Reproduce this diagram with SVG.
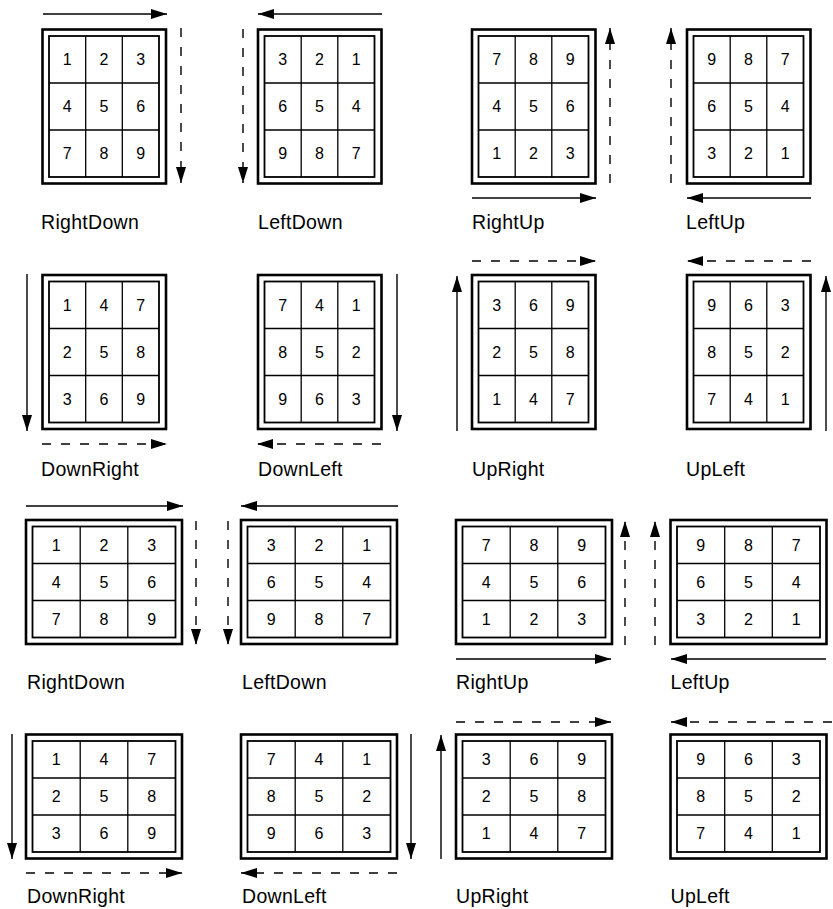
<svg xmlns="http://www.w3.org/2000/svg" width="833" height="909" viewBox="0 0 833 909">
<style>
.outer{fill:#fff;stroke:#000;stroke-width:2.6}
.inner{fill:none;stroke:#000;stroke-width:1.8}
.grid{stroke:#000;stroke-width:1.3;fill:none}
.num{font-family:"Liberation Sans",Arial,sans-serif;font-size:16px;text-anchor:middle;fill:#000}
.lbl{font-family:"Liberation Sans",Arial,sans-serif;font-size:19.5px;fill:#000;letter-spacing:0.3px}
.sol{stroke:#000;stroke-width:1.4;fill:none;marker-end:url(#ah)}
.dsh{stroke:#000;stroke-width:1.4;fill:none;stroke-dasharray:9 10;marker-end:url(#ah)}
</style>
<defs>
<marker id="ah" markerUnits="userSpaceOnUse" markerWidth="16" markerHeight="10" refX="16" refY="5" orient="auto">
<path d="M0,0 L16,5 L0,10 z" fill="#000"/>
</marker>
<g id="pgrid">
<rect class="outer" x="0" y="0" width="123.5" height="154"/>
<rect class="inner" x="6.5" y="6.5" width="110" height="141"/>
<path class="grid" d="M43.2,6.5V147.5M79.8,6.5V147.5M6.5,53.5H116.5M6.5,100.5H116.5"/>
</g>
<g id="lgrid">
<rect class="outer" x="0" y="0" width="156" height="124"/>
<rect class="inner" x="6.5" y="6.5" width="143" height="111"/>
<path class="grid" d="M54.2,6.5V117.5M101.8,6.5V117.5M6.5,43.5H149.5M6.5,80.5H149.5"/>
</g>
</defs>
<rect width="833" height="909" fill="#fff"/>

<!-- Row 1 -->
<g id="p1" transform="translate(42.5,29.5)">
<use href="#pgrid"/>
<text class="num" x="24.8" y="35.7">1</text><text class="num" x="61.5" y="35.7">2</text><text class="num" x="98.2" y="35.7">3</text>
<text class="num" x="24.8" y="82.7">4</text><text class="num" x="61.5" y="82.7">5</text><text class="num" x="98.2" y="82.7">6</text>
<text class="num" x="24.8" y="129.7">7</text><text class="num" x="61.5" y="129.7">8</text><text class="num" x="98.2" y="129.7">9</text>
<text class="lbl" x="-1.5" y="199.5">RightDown</text>
</g>
<g id="p2" transform="translate(258,29.5)">
<use href="#pgrid"/>
<text class="num" x="24.8" y="35.7">3</text><text class="num" x="61.5" y="35.7">2</text><text class="num" x="98.2" y="35.7">1</text>
<text class="num" x="24.8" y="82.7">6</text><text class="num" x="61.5" y="82.7">5</text><text class="num" x="98.2" y="82.7">4</text>
<text class="num" x="24.8" y="129.7">9</text><text class="num" x="61.5" y="129.7">8</text><text class="num" x="98.2" y="129.7">7</text>
<text class="lbl" x="0" y="199.5">LeftDown</text>
</g>
<g id="p3" transform="translate(472,29.5)">
<use href="#pgrid"/>
<text class="num" x="24.8" y="35.7">7</text><text class="num" x="61.5" y="35.7">8</text><text class="num" x="98.2" y="35.7">9</text>
<text class="num" x="24.8" y="82.7">4</text><text class="num" x="61.5" y="82.7">5</text><text class="num" x="98.2" y="82.7">6</text>
<text class="num" x="24.8" y="129.7">1</text><text class="num" x="61.5" y="129.7">2</text><text class="num" x="98.2" y="129.7">3</text>
<text class="lbl" x="0" y="199.5">RightUp</text>
</g>
<g id="p4" transform="translate(687,29.5)">
<use href="#pgrid"/>
<text class="num" x="24.8" y="35.7">9</text><text class="num" x="61.5" y="35.7">8</text><text class="num" x="98.2" y="35.7">7</text>
<text class="num" x="24.8" y="82.7">6</text><text class="num" x="61.5" y="82.7">5</text><text class="num" x="98.2" y="82.7">4</text>
<text class="num" x="24.8" y="129.7">3</text><text class="num" x="61.5" y="129.7">2</text><text class="num" x="98.2" y="129.7">1</text>
<text class="lbl" x="-1" y="199.5">LeftUp</text>
</g>

<!-- Row 2 -->
<g id="p5" transform="translate(42.5,275)">
<use href="#pgrid"/>
<text class="num" x="24.8" y="35.7">1</text><text class="num" x="61.5" y="35.7">4</text><text class="num" x="98.2" y="35.7">7</text>
<text class="num" x="24.8" y="82.7">2</text><text class="num" x="61.5" y="82.7">5</text><text class="num" x="98.2" y="82.7">8</text>
<text class="num" x="24.8" y="129.7">3</text><text class="num" x="61.5" y="129.7">6</text><text class="num" x="98.2" y="129.7">9</text>
<text class="lbl" x="-1.5" y="201">DownRight</text>
</g>
<g id="p6" transform="translate(258,275)">
<use href="#pgrid"/>
<text class="num" x="24.8" y="35.7">7</text><text class="num" x="61.5" y="35.7">4</text><text class="num" x="98.2" y="35.7">1</text>
<text class="num" x="24.8" y="82.7">8</text><text class="num" x="61.5" y="82.7">5</text><text class="num" x="98.2" y="82.7">2</text>
<text class="num" x="24.8" y="129.7">9</text><text class="num" x="61.5" y="129.7">6</text><text class="num" x="98.2" y="129.7">3</text>
<text class="lbl" x="0" y="201">DownLeft</text>
</g>
<g id="p7" transform="translate(472,275)">
<use href="#pgrid"/>
<text class="num" x="24.8" y="35.7">3</text><text class="num" x="61.5" y="35.7">6</text><text class="num" x="98.2" y="35.7">9</text>
<text class="num" x="24.8" y="82.7">2</text><text class="num" x="61.5" y="82.7">5</text><text class="num" x="98.2" y="82.7">8</text>
<text class="num" x="24.8" y="129.7">1</text><text class="num" x="61.5" y="129.7">4</text><text class="num" x="98.2" y="129.7">7</text>
<text class="lbl" x="0" y="201">UpRight</text>
</g>
<g id="p8" transform="translate(687,275)">
<use href="#pgrid"/>
<text class="num" x="24.8" y="35.7">9</text><text class="num" x="61.5" y="35.7">6</text><text class="num" x="98.2" y="35.7">3</text>
<text class="num" x="24.8" y="82.7">8</text><text class="num" x="61.5" y="82.7">5</text><text class="num" x="98.2" y="82.7">2</text>
<text class="num" x="24.8" y="129.7">7</text><text class="num" x="61.5" y="129.7">4</text><text class="num" x="98.2" y="129.7">1</text>
<text class="lbl" x="-1" y="201">UpLeft</text>
</g>

<!-- Row 3 -->
<g id="p9" transform="translate(26,520)">
<use href="#lgrid"/>
<text class="num" x="30.3" y="30.7">1</text><text class="num" x="78" y="30.7">2</text><text class="num" x="125.7" y="30.7">3</text>
<text class="num" x="30.3" y="67.7">4</text><text class="num" x="78" y="67.7">5</text><text class="num" x="125.7" y="67.7">6</text>
<text class="num" x="30.3" y="104.7">7</text><text class="num" x="78" y="104.7">8</text><text class="num" x="125.7" y="104.7">9</text>
<text class="lbl" x="1" y="169">RightDown</text>
</g>
<g id="p10" transform="translate(241,520)">
<use href="#lgrid"/>
<text class="num" x="30.3" y="30.7">3</text><text class="num" x="78" y="30.7">2</text><text class="num" x="125.7" y="30.7">1</text>
<text class="num" x="30.3" y="67.7">6</text><text class="num" x="78" y="67.7">5</text><text class="num" x="125.7" y="67.7">4</text>
<text class="num" x="30.3" y="104.7">9</text><text class="num" x="78" y="104.7">8</text><text class="num" x="125.7" y="104.7">7</text>
<text class="lbl" x="1" y="169">LeftDown</text>
</g>
<g id="p11" transform="translate(456,520)">
<use href="#lgrid"/>
<text class="num" x="30.3" y="30.7">7</text><text class="num" x="78" y="30.7">8</text><text class="num" x="125.7" y="30.7">9</text>
<text class="num" x="30.3" y="67.7">4</text><text class="num" x="78" y="67.7">5</text><text class="num" x="125.7" y="67.7">6</text>
<text class="num" x="30.3" y="104.7">1</text><text class="num" x="78" y="104.7">2</text><text class="num" x="125.7" y="104.7">3</text>
<text class="lbl" x="0" y="169">RightUp</text>
</g>
<g id="p12" transform="translate(670.5,520)">
<use href="#lgrid"/>
<text class="num" x="30.3" y="30.7">9</text><text class="num" x="78" y="30.7">8</text><text class="num" x="125.7" y="30.7">7</text>
<text class="num" x="30.3" y="67.7">6</text><text class="num" x="78" y="67.7">5</text><text class="num" x="125.7" y="67.7">4</text>
<text class="num" x="30.3" y="104.7">3</text><text class="num" x="78" y="104.7">2</text><text class="num" x="125.7" y="104.7">1</text>
<text class="lbl" x="0" y="169">LeftUp</text>
</g>

<!-- Row 4 -->
<g id="p13" transform="translate(26,734.5)">
<use href="#lgrid"/>
<text class="num" x="30.3" y="30.7">1</text><text class="num" x="78" y="30.7">4</text><text class="num" x="125.7" y="30.7">7</text>
<text class="num" x="30.3" y="67.7">2</text><text class="num" x="78" y="67.7">5</text><text class="num" x="125.7" y="67.7">8</text>
<text class="num" x="30.3" y="104.7">3</text><text class="num" x="78" y="104.7">6</text><text class="num" x="125.7" y="104.7">9</text>
<text class="lbl" x="1" y="168.5">DownRight</text>
</g>
<g id="p14" transform="translate(241,734.5)">
<use href="#lgrid"/>
<text class="num" x="30.3" y="30.7">7</text><text class="num" x="78" y="30.7">4</text><text class="num" x="125.7" y="30.7">1</text>
<text class="num" x="30.3" y="67.7">8</text><text class="num" x="78" y="67.7">5</text><text class="num" x="125.7" y="67.7">2</text>
<text class="num" x="30.3" y="104.7">9</text><text class="num" x="78" y="104.7">6</text><text class="num" x="125.7" y="104.7">3</text>
<text class="lbl" x="1" y="168.5">DownLeft</text>
</g>
<g id="p15" transform="translate(456,734.5)">
<use href="#lgrid"/>
<text class="num" x="30.3" y="30.7">3</text><text class="num" x="78" y="30.7">6</text><text class="num" x="125.7" y="30.7">9</text>
<text class="num" x="30.3" y="67.7">2</text><text class="num" x="78" y="67.7">5</text><text class="num" x="125.7" y="67.7">8</text>
<text class="num" x="30.3" y="104.7">1</text><text class="num" x="78" y="104.7">4</text><text class="num" x="125.7" y="104.7">7</text>
<text class="lbl" x="0" y="168.5">UpRight</text>
</g>
<g id="p16" transform="translate(670.5,734.5)">
<use href="#lgrid"/>
<text class="num" x="30.3" y="30.7">9</text><text class="num" x="78" y="30.7">6</text><text class="num" x="125.7" y="30.7">3</text>
<text class="num" x="30.3" y="67.7">8</text><text class="num" x="78" y="67.7">5</text><text class="num" x="125.7" y="67.7">2</text>
<text class="num" x="30.3" y="104.7">7</text><text class="num" x="78" y="104.7">4</text><text class="num" x="125.7" y="104.7">1</text>
<text class="lbl" x="0" y="168.5">UpLeft</text>
</g>

<g id="connectors">
<!-- row 1 -->
<path class="sol" d="M43,14H167"/>
<path class="dsh" d="M181,28V183"/>
<path class="sol" d="M382,14H258"/>
<path class="dsh" d="M243,29V183"/>
<path class="dsh" d="M610,183V28"/>
<path class="sol" d="M472,198H596"/>
<path class="dsh" d="M671,183V28"/>
<path class="sol" d="M811,198H687"/>
<!-- row 2 -->
<path class="sol" d="M27,274V431"/>
<path class="dsh" d="M42,444H167"/>
<path class="sol" d="M397,274V431"/>
<path class="dsh" d="M381,444H257"/>
<path class="sol" d="M457,431V276"/>
<path class="dsh" d="M472,261H596"/>
<path class="sol" d="M826,431V276"/>
<path class="dsh" d="M811,261H687"/>
<!-- row 3 -->
<path class="sol" d="M26,506H183"/>
<path class="dsh" d="M196,521V645"/>
<path class="sol" d="M398,506H241"/>
<path class="dsh" d="M228,521V645"/>
<path class="dsh" d="M625,645V521"/>
<path class="sol" d="M456,659H611"/>
<path class="dsh" d="M655,645V521"/>
<path class="sol" d="M826,659H671"/>
<!-- row 4 -->
<path class="sol" d="M12,734V859"/>
<path class="dsh" d="M26,873H182"/>
<path class="sol" d="M411,734V859"/>
<path class="dsh" d="M397,873H241"/>
<path class="sol" d="M441,859V735"/>
<path class="dsh" d="M456,722H611"/>
<path class="dsh" d="M832,722H671"/>
</g>
</svg>
